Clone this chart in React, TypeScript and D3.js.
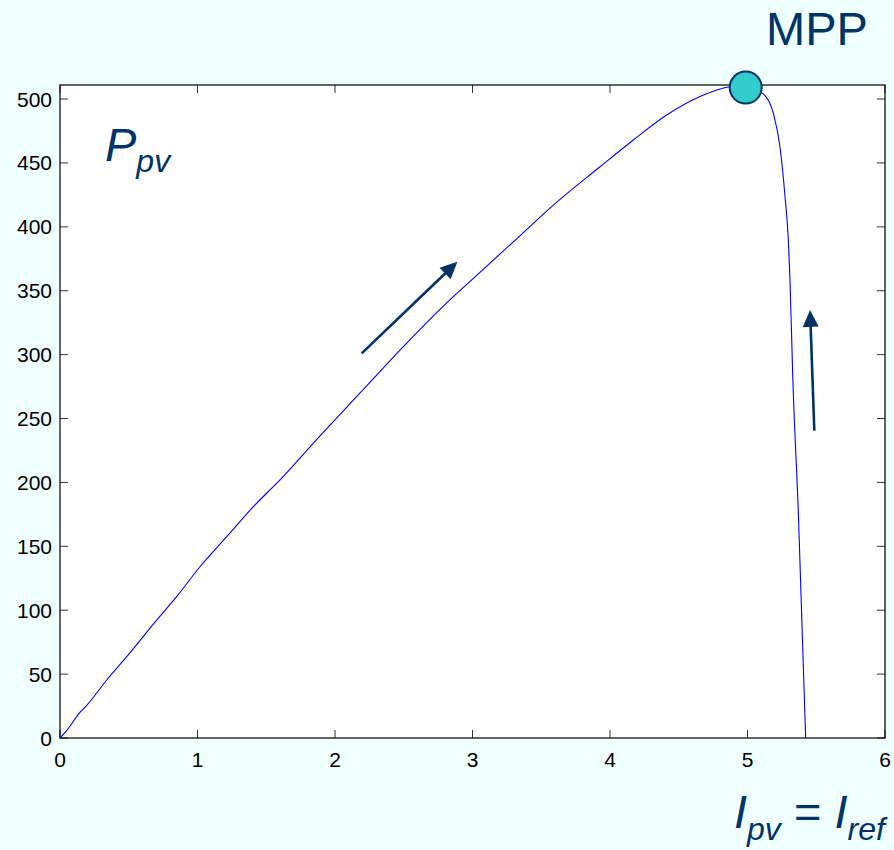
import React from "react";
import * as d3 from "d3";

const currentIpv = [0, 0.05, 0.145, 0.19, 0.34, 0.485, 0.703, 0.848, 1.018, 1.212, 1.406, 1.6, 1.891, 2.182, 2.473, 2.788, 3.03, 3.345, 3.588, 3.927, 4.17, 4.412, 4.655, 4.86, 4.95, 5.04, 5.115, 5.188, 5.236, 5.273, 5.297, 5.309, 5.33, 5.37, 5.423];
const powerPpv = [0, 6, 20, 25, 45.4, 63.6, 92.3, 110.6, 134, 157.5, 181, 202, 236.5, 270, 303.6, 338, 362, 393, 417, 447, 468, 487.5, 502, 509.5, 510.5, 508, 504, 488.7, 462.7, 423.6, 389.7, 358, 280, 175.8, 0];
const xTicks = [0, 1, 2, 3, 4, 5, 6];
const yTicks = [0, 50, 100, 150, 200, 250, 300, 350, 400, 450, 500];
const mppPoint = { x: 4.987, y: 509 };
const arrows = [
  { x1: 2.194, y1: 301, x2: 2.89, y2: 372.7 },
  { x1: 5.486, y1: 240.5, x2: 5.455, y2: 335 },
];

const W = 894, H = 850;
const L = 60, R = 885, T = 85, B = 738;
const NAVY = "#003366";
const FONT = "'Liberation Sans', Arial, Helvetica, sans-serif";

export default function App() {
  const x = d3.scaleLinear().domain([0, 6]).range([L, R]);
  const y = d3.scaleLinear().domain([0, 511]).range([B, T]);
  const pts = currentIpv.map((v, i) => [v, powerPpv[i]] as [number, number]);
  const line = d3.line<[number, number]>().x(d => x(d[0])).y(d => y(d[1])).curve(d3.curveMonotoneX);
  const tl = 8;

  const arrowEls = arrows.map((a, i) => {
    const X1 = x(a.x1), Y1 = y(a.y1), X2 = x(a.x2), Y2 = y(a.y2);
    const ang = Math.atan2(Y2 - Y1, X2 - X1);
    const hl = 17, hw = 8;
    const bx = X2 - hl * Math.cos(ang), by = Y2 - hl * Math.sin(ang);
    const px = -Math.sin(ang) * hw, py = Math.cos(ang) * hw;
    return (
      <g key={i}>
        <line x1={X1} y1={Y1} x2={bx + hl * 0.3 * Math.cos(ang)} y2={by + hl * 0.3 * Math.sin(ang)} stroke={NAVY} strokeWidth={2.6} />
        <polygon points={`${X2},${Y2} ${bx + px},${by + py} ${bx - px},${by - py}`} fill={NAVY} />
      </g>
    );
  });

  return (
    <svg width={W} height={H} style={{ position: "absolute", left: 0, top: 0, display: "block" }} fontFamily={FONT}>
      <rect x={0} y={0} width={W} height={H} fill="#F0FFFF" />
      <rect x={L} y={T} width={R - L} height={B - T} fill="#ffffff" />
      {xTicks.map(t => (
        <g key={"x" + t}>
          <line x1={x(t)} x2={x(t)} y1={B} y2={B - tl} stroke="#333" strokeWidth={1} />
          <line x1={x(t)} x2={x(t)} y1={T} y2={T + tl} stroke="#333" strokeWidth={1} />
          <text x={x(t)} y={767} textAnchor="middle" fontSize={21} fill="#000">{t}</text>
        </g>
      ))}
      {yTicks.map(t => (
        <g key={"y" + t}>
          <line x1={L} x2={L + tl} y1={y(t)} y2={y(t)} stroke="#333" strokeWidth={1} />
          <line x1={R} x2={R - tl} y1={y(t)} y2={y(t)} stroke="#333" strokeWidth={1} />
          <text x={52} y={y(t) + 7.5} textAnchor="end" fontSize={21} fill="#000">{t}</text>
        </g>
      ))}
      <rect x={L} y={T} width={R - L} height={B - T} fill="none" stroke="#000" strokeWidth={1.2} />
      <path d={line(pts) || ""} fill="none" stroke="#0000ff" strokeWidth={1.1} />
      {arrowEls}
      <circle cx={x(mppPoint.x)} cy={y(mppPoint.y)} r={16} fill="#33CCCC" stroke={NAVY} strokeWidth={2} />
      <text x={766} y={45} fontSize={47} fill={NAVY}>MPP</text>
      <text x={105} y={161} fill={NAVY} fontStyle="italic">
        <tspan fontSize={47}>P</tspan>
        <tspan fontSize={32} dy={11}>pv</tspan>
      </text>
      <text x={734} y={828} fill={NAVY} fontStyle="italic">
        <tspan fontSize={47}>I</tspan>
        <tspan fontSize={32} dy={12}>pv</tspan>
        <tspan fontSize={47} dy={-12} fontStyle="normal"> = </tspan>
        <tspan fontSize={47}>I</tspan>
        <tspan fontSize={32} dy={12}>ref</tspan>
      </text>
    </svg>
  );
}
